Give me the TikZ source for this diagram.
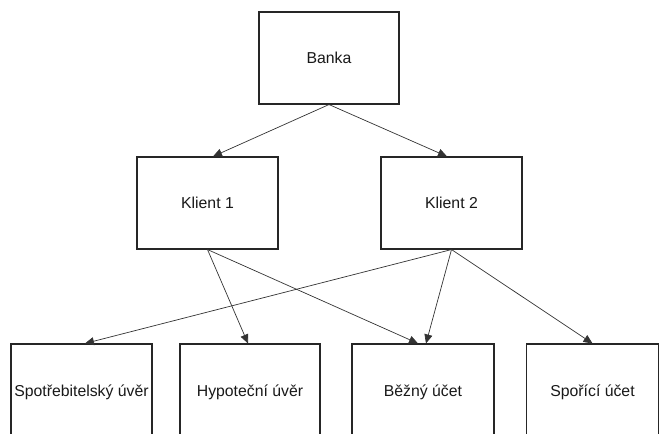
\documentclass[tikz,border=0pt]{standalone}
\usepackage{fontspec}
\setmainfont{Liberation Sans}
\usetikzlibrary{arrows.meta}
\begin{document}
\begin{tikzpicture}[x=1pt,y=-1pt,
  box/.style={draw=black!85,line width=1.1pt,fill=white,inner sep=0pt,
    font=\fontsize{15.8}{18}\selectfont,text=black!90},
  topbox/.style={box,minimum width=140pt,minimum height=92pt},
  leafbox/.style={box,minimum width=141pt,minimum height=96pt},
  link/.style={draw=black!80,line width=0.7pt,
    -{Triangle[length=9pt,width=8pt]}}]
  \useasboundingbox (0,0) rectangle (660,433);
  \clip (0,0) rectangle (660,433);
  % top level
  \node[topbox] (banka) at (329,58) {Banka};
  % clients
  \node[topbox,minimum width=141pt] (k1) at (207.5,203) {Klient 1};
  \node[topbox,minimum width=141pt] (k2) at (451.5,203) {Klient 2};
  % products
  \node[leafbox] (spot) at (81.5,392) {Spotřebitelský úvěr};
  \node[leafbox,minimum width=140pt] (hyp) at (250,392) {Hypoteční úvěr};
  \node[leafbox,minimum width=142pt] (bez) at (423,392) {Běžný účet};
  \node[leafbox,minimum width=132pt] (spor) at (592.5,392) {Spořící účet};
  % connectors
  \draw[link] (banka.south) -- ([xshift=5.5pt]k1.north);
  \draw[link] (banka.south) -- ([xshift=-4.5pt]k2.north);
  \draw[link] (k1.south) -- ([xshift=-2pt]hyp.north);
  \draw[link] (k1.south) -- ([xshift=-5pt]bez.north);
  \draw[link] (k2.south) -- ([xshift=3.5pt]spot.north);
  \draw[link] (k2.south) -- ([xshift=3pt]bez.north);
  \draw[link] (k2.south) -- (spor.north);
\end{tikzpicture}
\end{document}
